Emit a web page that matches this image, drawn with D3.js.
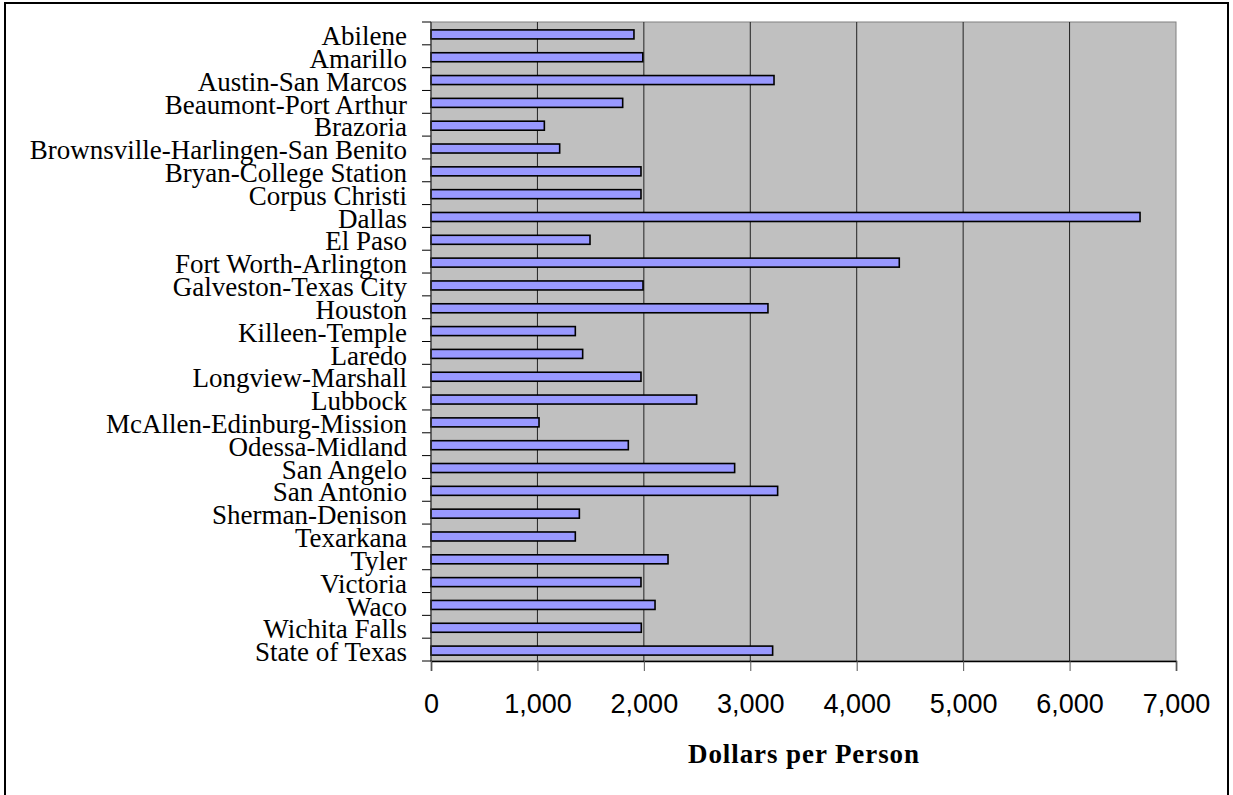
<!DOCTYPE html>
<html>
<head>
<meta charset="utf-8">
<script src="https://cdn.jsdelivr.net/npm/d3@7"></script>
<style>
  body { margin: 0; background: #fff; }
  svg { display: block; }
</style>
</head>
<body>
<svg id="chart" width="1233" height="795"></svg>
<script>
// categories and values (dollars per person)
var cities = ["Abilene", "Amarillo", "Austin-San Marcos", "Beaumont-Port Arthur", "Brazoria",
  "Brownsville-Harlingen-San Benito", "Bryan-College Station", "Corpus Christi", "Dallas", "El Paso",
  "Fort Worth-Arlington", "Galveston-Texas City", "Houston", "Killeen-Temple", "Laredo",
  "Longview-Marshall", "Lubbock", "McAllen-Edinburg-Mission", "Odessa-Midland", "San Angelo",
  "San Antonio", "Sherman-Denison", "Texarkana", "Tyler", "Victoria", "Waco", "Wichita Falls",
  "State of Texas"]
var dollars = [1907, 1990, 3223, 1801, 1065,
  1209, 1973, 1973, 6662, 1494,
  4400, 1992, 3166, 1356, 1425,
  1973, 2496, 1015, 1854, 2853,
  3257, 1394, 1356, 2227, 1973, 2105, 1976,
  3210]
var xTicks = [0, 1000, 2000, 3000, 4000, 5000, 6000, 7000]
var xTitle = "Dollars per Person"

var svg = d3.select("svg"),
    margin = {top: 22, right: 57, bottom: 134, left: 431},
    width = 1233 - margin.left - margin.right,
    height = 795 - margin.top - margin.bottom

// outer frame
svg.append("rect")
  .attr("x", 5).attr("y", 3)
  .attr("width", 1223).attr("height", 800)
  .attr("fill", "none").attr("stroke", "#000").attr("stroke-width", 2)

var g = svg.append("g").attr("transform", "translate(" + margin.left + "," + margin.top + ")")

var x = d3.scaleLinear().domain([0, 7000]).range([0, width])
var y = d3.scaleBand().domain(cities).range([0, height])
var barH = 9

// plot area
g.append("rect")
  .attr("width", width).attr("height", height)
  .attr("fill", "#c0c0c0").attr("stroke", "#808080").attr("stroke-width", 1)

// gridlines
g.selectAll(".grid").data(xTicks.slice(1, -1)).enter().append("line")
  .attr("x1", function(d) { return x(d) }).attr("x2", function(d) { return x(d) })
  .attr("y1", 0).attr("y2", height)
  .attr("stroke", "#222").attr("stroke-width", 1)

// bars
g.selectAll(".bar").data(cities).enter().append("rect")
  .attr("x", x(0))
  .attr("y", function(d) { return y(d) + (y.bandwidth() - barH) / 2 + 1 })
  .attr("width", function(d, i) { return x(dollars[i]) - x(0) })
  .attr("height", barH)
  .attr("fill", "#9999ff").attr("stroke", "#000").attr("stroke-width", 1.6)

// left axis: labels
var yAxis = g.append("g").call(d3.axisLeft(y).tickSize(0).tickPadding(24))
yAxis.select(".domain").remove()
yAxis.selectAll("text")
  .attr("font-family", "'Liberation Serif', 'Times New Roman', serif")
  .attr("font-size", 27).attr("fill", "#000")
  .attr("dy", "0.43em")

// category boundary ticks
var bounds = cities.map(function(d) { return y(d) }).concat([height])
g.selectAll(".ytick").data(bounds).enter().append("line")
  .attr("x1", -9).attr("x2", 0)
  .attr("y1", function(d) { return d }).attr("y2", function(d) { return d })
  .attr("stroke", "#000").attr("stroke-width", 1)

g.append("line")
  .attr("x1", 0).attr("x2", 0).attr("y1", 0).attr("y2", height)
  .attr("stroke", "#333").attr("stroke-width", 1.2)

// bottom axis
var xAxis = g.append("g").attr("transform", "translate(0," + height + ")")
  .call(d3.axisBottom(x).tickValues(xTicks).tickSize(10).tickPadding(23).tickFormat(d3.format(",")))
xAxis.select(".domain").attr("stroke", "#000").attr("stroke-width", 1.5)
xAxis.selectAll(".tick line").attr("stroke", "#555")
xAxis.selectAll("text")
  .attr("font-family", "'Liberation Sans', Arial, sans-serif")
  .attr("font-size", 27).attr("fill", "#000")

g.append("text")
  .attr("x", width / 2).attr("y", 741)
  .attr("text-anchor", "middle")
  .attr("font-family", "'Liberation Serif', 'Times New Roman', serif")
  .attr("font-weight", "bold").attr("font-size", 27)
  .attr("textLength", 231).attr("lengthAdjust", "spacing")
  .text(xTitle)
</script>
</body>
</html>
